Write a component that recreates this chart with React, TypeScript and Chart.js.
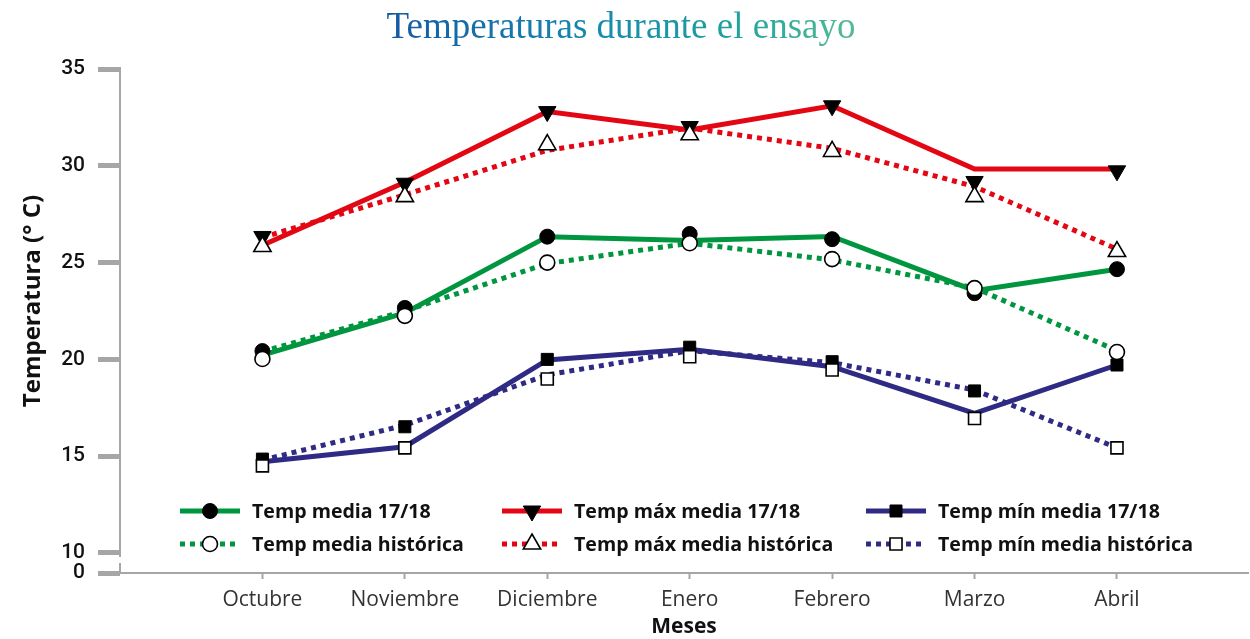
import React, { useEffect, useRef } from 'react';
import { Chart, registerables } from 'chart.js';

Chart.register(...registerables);

// ---- Data -------------------------------------------------------------
const months = ['Octubre', 'Noviembre', 'Diciembre', 'Enero', 'Febrero', 'Marzo', 'Abril'];
const yTickValues = [10, 15, 20, 25, 30, 35];
const yBreakLabel = '0';
const Y_BREAK = 8.966; // where the broken axis shows "0"
const Y_MAX = 35;
const X_MIN = -1;
const X_MAX = 6.92;

const chartTitle = 'Temperaturas durante el ensayo';
const xTitle = 'Meses';
const yTitle = 'Temperatura (° C)';

// Temp media
const mediaLinea = [20.22, 22.4, 26.34, 26.14, 26.35, 23.55, 24.66];
const mediaHistLinea = [20.4, 22.5, 24.95, 26.0, 25.14, 23.7, 20.45];
const mediaPuntos = [20.43, 22.66, 26.34, 26.48, 26.21, 23.42, 24.66];
const mediaHistPuntos = [20.02, 22.25, 25.0, 26.0, 25.18, 23.68, 20.38];

// Temp máx media
const maxLinea = [25.9, 29.15, 32.8, 31.85, 33.1, 29.83, 29.83];
const maxHistLinea = [26.3, 28.5, 30.8, 31.95, 30.9, 28.93, 25.7];
const maxPuntos = [26.35, 29.1, 32.8, 32.03, 33.1, 29.19, 29.74];
const maxHistPuntos = [25.83, 28.41, 31.09, 31.6, 30.74, 28.41, 25.57];

// Temp mín media
const minLinea = [14.71, 15.49, 19.97, 20.52, 19.62, 17.21, 19.71];
const minHistLinea = [14.8, 16.6, 19.2, 20.45, 19.83, 18.42, 15.43];
const minPuntos = [14.85, 16.52, 20.0, 20.63, 19.88, 18.37, 19.71];
const minHistPuntos = [14.5, 15.43, 18.99, 20.14, 19.45, 16.95, 15.43];

const seriesLabels = [
  'Temp media 17/18',
  'Temp máx media 17/18',
  'Temp mín media 17/18',
  'Temp media histórica',
  'Temp máx media histórica',
  'Temp mín media histórica',
];

// ---- Styles -----------------------------------------------------------
const GREEN = '#00953f';
const RED = '#e30613';
const BLUE = '#2f2a84';
const AXIS = '#a6a6a6';

type Shape = 'circle' | 'down' | 'up' | 'square';

const pts = (arr: number[]) => arr.map((y, i) => ({ x: i, y }));

const lineDs = (label: string, data: number[], color: string, dashed: boolean) => ({
  label,
  data: pts(data),
  borderColor: color,
  backgroundColor: color,
  borderWidth: 5,
  borderDash: dashed ? [5, 5] : [],
  borderCapStyle: 'butt',
  pointRadius: 0,
  pointHoverRadius: 0,
  tension: 0,
  fill: false,
  order: 3,
});

const shapeStyle: Record<Shape, { style: string; rot: number; r: number }> = {
  circle: { style: 'circle', rot: 0, r: 7.5 },
  down: { style: 'triangle', rot: 180, r: 10 },
  up: { style: 'triangle', rot: 0, r: 10 },
  square: { style: 'rect', rot: 0, r: 8.5 },
};

const markerDs = (label: string, data: number[], shape: Shape, filled: boolean) => ({
  label,
  data: pts(data),
  showLine: false,
  pointStyle: shapeStyle[shape].style,
  pointRotation: shapeStyle[shape].rot,
  pointRadius: shapeStyle[shape].r,
  pointHoverRadius: shapeStyle[shape].r,
  pointBackgroundColor: filled ? '#000000' : '#ffffff',
  pointBorderColor: '#000000',
  pointBorderWidth: filled ? 1 : 1.6,
  order: filled ? 1 : 0,
});

const legendItems: { label: string; color: string; dashed: boolean; shape: Shape; filled: boolean }[] = [
  { label: seriesLabels[0], color: GREEN, dashed: false, shape: 'circle', filled: true },
  { label: seriesLabels[1], color: RED, dashed: false, shape: 'down', filled: true },
  { label: seriesLabels[2], color: BLUE, dashed: false, shape: 'square', filled: true },
  { label: seriesLabels[3], color: GREEN, dashed: true, shape: 'circle', filled: false },
  { label: seriesLabels[4], color: RED, dashed: true, shape: 'up', filled: false },
  { label: seriesLabels[5], color: BLUE, dashed: true, shape: 'square', filled: false },
];

function drawShape(ctx: CanvasRenderingContext2D, shape: Shape, filled: boolean, x: number, y: number) {
  const r = shapeStyle[shape].r;
  ctx.save();
  ctx.beginPath();
  if (shape === 'circle') {
    ctx.arc(x, y, r, 0, Math.PI * 2);
  } else if (shape === 'up') {
    ctx.moveTo(x, y - r);
    ctx.lineTo(x + 0.866 * r, y + 0.5 * r);
    ctx.lineTo(x - 0.866 * r, y + 0.5 * r);
    ctx.closePath();
  } else if (shape === 'down') {
    ctx.moveTo(x, y + r);
    ctx.lineTo(x - 0.866 * r, y - 0.5 * r);
    ctx.lineTo(x + 0.866 * r, y - 0.5 * r);
    ctx.closePath();
  } else {
    const s = Math.SQRT1_2 * r;
    ctx.rect(x - s, y - s, 2 * s, 2 * s);
  }
  ctx.fillStyle = filled ? '#000' : '#fff';
  ctx.fill();
  ctx.lineWidth = filled ? 1 : 1.6;
  ctx.strokeStyle = '#000';
  ctx.stroke();
  ctx.restore();
}

const decorPlugin = {
  id: 'decor',
  afterDraw(chart: any) {
    const ctx: CanvasRenderingContext2D = chart.ctx;
    const area = chart.chartArea;
    const yScale = chart.scales.y;

    // Title with gradient
    ctx.save();
    ctx.font = '37px "Liberation Serif", "Times New Roman", serif';
    ctx.textAlign = 'center';
    ctx.textBaseline = 'alphabetic';
    const tw = ctx.measureText(chartTitle).width;
    const cx = 621;
    const g = ctx.createLinearGradient(cx - tw / 2, 0, cx + tw / 2, 0);
    g.addColorStop(0, '#1559a6');
    g.addColorStop(0.45, '#168aad');
    g.addColorStop(0.72, '#1e9fa0');
    g.addColorStop(1, '#56bb93');
    ctx.fillStyle = g;
    ctx.fillText(chartTitle, cx, 38);
    ctx.restore();

    // Broken y axis line
    const y10 = yScale.getPixelForValue(10);
    ctx.save();
    ctx.strokeStyle = AXIS;
    ctx.lineWidth = 2;
    ctx.beginPath();
    ctx.moveTo(area.left, area.top - 2);
    ctx.lineTo(area.left, y10 + 4);
    ctx.moveTo(area.left, y10 + 10);
    ctx.lineTo(area.left, area.bottom);
    ctx.stroke();
    ctx.restore();

    // Axis titles
    ctx.save();
    ctx.fillStyle = '#111';
    ctx.font = 'bold 24px "Open Sans", "Noto Sans", sans-serif';
    ctx.textAlign = 'center';
    ctx.textBaseline = 'middle';
    ctx.translate(33, 301);
    ctx.rotate(-Math.PI / 2);
    ctx.fillText(yTitle, 0, 0);
    ctx.restore();

    ctx.save();
    ctx.fillStyle = '#111';
    ctx.font = 'bold 21px "Open Sans", "Noto Sans", sans-serif';
    ctx.textAlign = 'center';
    ctx.textBaseline = 'middle';
    ctx.fillText(xTitle, (area.left + area.right) / 2, 627);
    ctx.restore();

    // Legend (3 columns x 2 rows)
    const colX = [180, 502, 866];
    const rowY = [511, 544];
    legendItems.forEach((it, i) => {
      const x0 = colX[i % 3];
      const y0 = rowY[Math.floor(i / 3)];
      ctx.save();
      ctx.strokeStyle = it.color;
      ctx.lineWidth = 5;
      ctx.lineCap = 'butt';
      ctx.setLineDash(it.dashed ? [5, 5] : []);
      ctx.beginPath();
      ctx.moveTo(x0, y0);
      ctx.lineTo(x0 + 60, y0);
      ctx.stroke();
      ctx.restore();
      drawShape(ctx, it.shape, it.filled, x0 + 30, y0);
      ctx.save();
      ctx.fillStyle = '#111';
      ctx.font = 'bold 19.6px "Open Sans", "Noto Sans", sans-serif';
      ctx.textAlign = 'left';
      ctx.textBaseline = 'middle';
      ctx.fillText(it.label, x0 + 72, y0 + 1);
      ctx.restore();
    });
  },
};

export default function App() {
  const ref = useRef<HTMLCanvasElement | null>(null);

  useEffect(() => {
    document.body.style.margin = '0';
    const canvas = ref.current;
    if (!canvas) return;

    const datasets: any[] = [
      lineDs(seriesLabels[0], mediaLinea, GREEN, false),
      lineDs(seriesLabels[3], mediaHistLinea, GREEN, true),
      lineDs(seriesLabels[1], maxLinea, RED, false),
      lineDs(seriesLabels[4], maxHistLinea, RED, true),
      lineDs(seriesLabels[2], minLinea, BLUE, false),
      lineDs(seriesLabels[5], minHistLinea, BLUE, true),
      markerDs(seriesLabels[0], mediaPuntos, 'circle', true),
      markerDs(seriesLabels[3], mediaHistPuntos, 'circle', false),
      markerDs(seriesLabels[1], maxPuntos, 'down', true),
      markerDs(seriesLabels[4], maxHistPuntos, 'up', false),
      markerDs(seriesLabels[2], minPuntos, 'square', true),
      markerDs(seriesLabels[5], minHistPuntos, 'square', false),
    ];

    const chart = new Chart(canvas, {
      type: 'line',
      data: { datasets },
      options: {
        animation: false,
        responsive: false,
        devicePixelRatio: 1,
        layout: { autoPadding: false, padding: { top: 69, right: 2, left: 0, bottom: 0 } },
        plugins: {
          legend: { display: false },
          tooltip: { enabled: false },
          title: { display: false },
        },
        scales: {
          x: {
            type: 'linear',
            min: X_MIN,
            max: X_MAX,
            afterBuildTicks: (s: any) => {
              s.ticks = months.map((_, i) => ({ value: i }));
            },
            afterFit: (s: any) => {
              s.height = 66;
              s.paddingLeft = 0;
              s.paddingRight = 0;
            },
            ticks: {
              autoSkip: false,
              maxRotation: 0,
              padding: 8,
              color: '#333',
              font: { family: '"Open Sans", "Noto Sans", sans-serif', size: 21 },
              callback: (v: any) => months[Math.round(Number(v))] ?? '',
            },
            grid: {
              display: true,
              drawOnChartArea: false,
              drawTicks: true,
              tickLength: 6,
              tickWidth: 2,
              tickColor: AXIS,
            },
            border: { display: true, color: AXIS, width: 2 },
          },
          y: {
            type: 'linear',
            min: Y_BREAK,
            max: Y_MAX,
            afterBuildTicks: (s: any) => {
              s.ticks = [Y_BREAK, ...yTickValues].map((v) => ({ value: v }));
            },
            afterFit: (s: any) => {
              s.width = 120;
            },
            ticks: {
              autoSkip: false,
              padding: 13,
              color: '#111',
              font: { family: 'Roboto, "Liberation Sans", sans-serif', size: 21, weight: '500' },
              callback: (v: any) => (Math.abs(Number(v) - Y_BREAK) < 1e-6 ? yBreakLabel : String(v)),
            },
            grid: {
              display: true,
              drawOnChartArea: false,
              drawTicks: true,
              tickLength: 22,
              tickWidth: 5,
              tickColor: AXIS,
            },
            border: { display: false },
          },
        },
      },
      plugins: [decorPlugin],
    } as any);

    return () => chart.destroy();
  }, []);

  return (
    <div style={{ width: 1250, height: 639, background: '#fff' }}>
      <canvas ref={ref} width={1250} height={639} style={{ display: 'block' }} />
    </div>
  );
}
